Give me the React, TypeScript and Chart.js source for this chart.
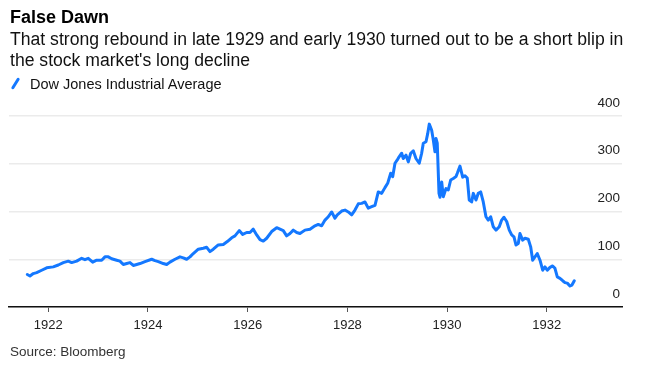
import React, { useEffect, useRef } from "react";
import { Chart, registerables } from "chart.js";

Chart.register(...registerables);

// Decimal years
const years: number[] = [
  1921.579, 1921.633, 1921.699, 1921.767, 1921.868, 1921.968, 1922.1, 1922.201, 1922.301, 1922.401,
  1922.469, 1922.57, 1922.67, 1922.736, 1922.802, 1922.891, 1922.971, 1923.071, 1923.137, 1923.204,
  1923.272, 1923.372, 1923.438, 1923.505, 1923.573, 1923.639, 1923.705, 1923.773, 1923.84, 1923.94,
  1924.074, 1924.14, 1924.207, 1924.307, 1924.375, 1924.441, 1924.542, 1924.642, 1924.708, 1924.776,
  1924.843, 1924.909, 1925.009, 1925.109, 1925.178, 1925.244, 1925.31, 1925.41, 1925.511, 1925.591,
  1925.679, 1925.745, 1925.831, 1925.9, 1925.98, 1926.046, 1926.112, 1926.181, 1926.247, 1926.313,
  1926.381, 1926.481, 1926.582, 1926.648, 1926.714, 1926.782, 1926.849, 1926.915, 1926.983, 1927.049,
  1927.149, 1927.25, 1927.35, 1927.416, 1927.484, 1927.551, 1927.617, 1927.685, 1927.751, 1927.797,
  1927.886, 1927.952, 1928.018, 1928.086, 1928.152, 1928.219, 1928.287, 1928.353, 1928.419, 1928.487,
  1928.554, 1928.62, 1928.688, 1928.754, 1928.808, 1928.869, 1928.909, 1928.955, 1929.001, 1929.041,
  1929.089, 1929.121, 1929.176, 1929.222, 1929.27, 1929.322, 1929.376, 1929.442, 1929.49, 1929.523,
  1929.577, 1929.611, 1929.643, 1929.691, 1929.723, 1929.757, 1929.777, 1929.803, 1929.838, 1929.858,
  1929.892, 1929.924, 1929.978, 1930.024, 1930.072, 1930.124, 1930.178, 1930.205, 1930.259, 1930.313,
  1930.359, 1930.405, 1930.445, 1930.493, 1930.526, 1930.58, 1930.626, 1930.674, 1930.726, 1930.78,
  1930.826, 1930.874, 1930.927, 1930.981, 1931.047, 1931.095, 1931.141, 1931.196, 1931.248, 1931.296,
  1931.342, 1931.382, 1931.428, 1931.462, 1931.516, 1931.563, 1931.629, 1931.677, 1931.717, 1931.763,
  1931.809, 1931.864, 1931.918, 1931.964, 1932.01, 1932.064, 1932.118, 1932.164, 1932.211, 1932.265,
  1932.319, 1932.365, 1932.411, 1932.465, 1932.505, 1932.552,
];

// Dow Jones Industrial Average values
const dowValues: number[] = [
  68, 65, 70, 72, 77, 82, 84, 88, 93, 96,
  93, 96, 102, 99, 102, 94, 98, 98, 105, 105,
  101, 98, 96, 89, 91, 93, 87, 89, 91, 95,
  100, 97, 95, 91, 89, 94, 100, 105, 103, 100,
  105, 112, 121, 123, 125, 116, 121, 130, 131, 137,
  145, 149, 160, 152, 156, 156, 163, 151, 141, 138,
  144, 158, 166, 163, 160, 149, 154, 161, 156, 154,
  161, 163, 170, 173, 170, 182, 189, 199, 186, 193,
  201, 203, 199, 193, 203, 216, 217, 220, 207, 210,
  213, 241, 238, 250, 259, 280, 273, 301, 308, 315,
  322, 311, 318, 304, 322, 327, 311, 301, 322, 343,
  346, 363, 383, 370, 350, 325, 353, 343, 238, 230,
  262, 231, 248, 245, 266, 269, 273, 280, 295, 272,
  275, 270, 224, 220, 238, 224, 238, 241, 220, 189,
  182, 189, 168, 161, 168, 182, 188, 179, 161, 151,
  147, 130, 133, 154, 140, 144, 142, 126, 98, 105,
  112, 98, 77, 84, 77, 83, 86, 81, 63, 60,
  55, 51, 50, 44, 46, 55,
];

const xTickYears: number[] = [1922, 1924, 1926, 1928, 1930, 1932];
const yTickValues: number[] = [0, 100, 200, 300, 400];

const title = "False Dawn";
const subtitleLines: string[] = [
  "That strong rebound in late 1929 and early 1930 turned out to be a short blip in",
  "the stock market's long decline",
];
const seriesName = "Dow Jones Industrial Average";
const source = "Source: Bloomberg";

const BLUE = "#1478ff";
const FONT = "'Liberation Sans', Arial, sans-serif";

export default function App() {
  const canvasRef = useRef<HTMLCanvasElement | null>(null);

  useEffect(() => {
    const canvas = canvasRef.current;
    if (!canvas) return;
    const points = years.map((x, i) => ({ x, y: dowValues[i] }));
    const chart = new Chart(canvas, {
      type: "line",
      data: {
        datasets: [
          {
            label: seriesName,
            data: points,
            borderColor: BLUE,
            borderWidth: 3,
            pointRadius: 0,
            tension: 0,
            borderJoinStyle: "round",
            borderCapStyle: "round",
          },
        ],
      },
      options: {
        animation: false,
        responsive: false,
        maintainAspectRatio: false,
        layout: { padding: { left: 9, right: 26, top: 116, bottom: 30 } },
        plugins: { legend: { display: false }, tooltip: { enabled: false } },
        scales: {
          x: {
            type: "linear",
            min: 1921.212,
            max: 1933.509,
            afterBuildTicks: (s: any) => {
              s.ticks = xTickYears.map((v) => ({ value: v }));
            },
            afterFit: (s: any) => {
              s.height = 30;
            },
            ticks: {
              color: "#222",
              font: { family: FONT, size: 13 },
              padding: 6,
              maxRotation: 0,
              autoSkip: false,
              callback: (v: any) => String(v),
            },
            grid: {
              drawOnChartArea: false,
              drawTicks: true,
              tickLength: 5,
              color: "#555",
              lineWidth: 1,
            },
            border: { display: true, color: "#111", width: 1.5 },
          },
          y: {
            position: "right",
            min: 0,
            max: 400,
            afterBuildTicks: (s: any) => {
              s.ticks = yTickValues.map((v) => ({ value: v }));
            },
            afterFit: (s: any) => {
              s.width = 0;
            },
            ticks: {
              mirror: true,
              padding: -2,
              labelOffset: -13,
              color: "#222",
              font: { family: FONT, size: 13.5 },
            },
            grid: { color: "#ebebeb", lineWidth: 1.5, drawTicks: false },
            border: { display: false },
          },
        },
      },
    });
    return () => chart.destroy();
  }, []);

  return (
    <div
      style={{
        position: "absolute",
        left: 0,
        top: 0,
        width: 648,
        height: 367,
        background: "#fff",
        fontFamily: FONT,
        color: "#000",
        overflow: "hidden",
      }}
    >
      <canvas
        ref={canvasRef}
        width={648}
        height={367}
        style={{ position: "absolute", left: 0, top: 0, width: 648, height: 367 }}
      />
      <div
        style={{
          position: "absolute",
          left: 10,
          top: 7,
          fontSize: 18,
          lineHeight: "20px",
          fontWeight: "bold",
          whiteSpace: "nowrap",
        }}
      >
        {title}
      </div>
      {subtitleLines.map((line, i) => (
        <div
          key={i}
          style={{
            position: "absolute",
            left: 10,
            top: 29 + i * 21,
            fontSize: 17.6,
            lineHeight: "20px",
            color: "#111",
            whiteSpace: "nowrap",
          }}
        >
          {line}
        </div>
      ))}
      <div
        style={{
          position: "absolute",
          left: 14,
          top: 77,
          width: 3,
          height: 13,
          background: BLUE,
          borderRadius: 1.5,
          transform: "rotate(32deg)",
        }}
      />
      <div
        style={{
          position: "absolute",
          left: 30,
          top: 75,
          fontSize: 14.5,
          lineHeight: "18px",
          color: "#111",
          whiteSpace: "nowrap",
        }}
      >
        {seriesName}
      </div>
      <div
        style={{
          position: "absolute",
          left: 10,
          top: 343,
          fontSize: 13.5,
          lineHeight: "18px",
          color: "#333",
          whiteSpace: "nowrap",
        }}
      >
        {source}
      </div>
    </div>
  );
}
